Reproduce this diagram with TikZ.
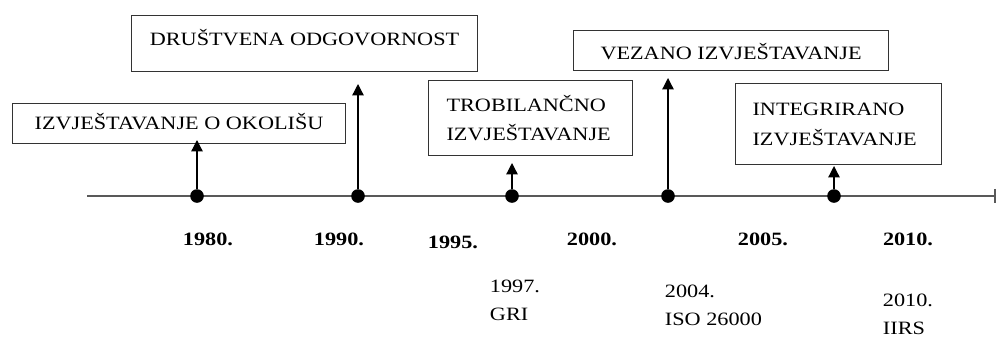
\documentclass[tikz,border=0pt]{standalone}
\usepackage{fontspec}
\setmainfont[FakeStretch=1.18]{Liberation Serif}
\usetikzlibrary{arrows.meta}

\begin{document}
\begin{tikzpicture}[x=0.025cm, y=-0.025cm,
    box/.style={draw=black!80, line width=0.8pt, inner sep=0pt, anchor=north west, font=\fontsize{13.4}{21.3}\selectfont},
    dot/.style={circle, fill=black, inner sep=0pt, minimum size=0.34cm},
    arr/.style={line width=0.9pt, -{Triangle[length=8pt,width=8pt]}},
    year/.style={anchor=base, font=\fontsize{13.4}{16}\selectfont\bfseries},
    std/.style={anchor=base west, align=left, font=\fontsize{13.4}{19.5}\selectfont}]
        \def\px{0.025cm}
        \useasboundingbox (0,0) rectangle (997,336);

        % Timeline
        \coordinate (start) at (87,196);
        \coordinate (end) at (996,196);
        \draw[black!65, line width=1.3pt, -{Bar[width=10pt]}] (start) -- (end);

        % Boxes
        \node[box, minimum width=333*\px, minimum height=40*\px, text height=9pt, text depth=0pt] (okolis) at (12,103) {IZVJEŠTAVANJE O OKOLIŠU};
        \node[box, minimum width=346*\px, minimum height=56*\px, text height=9pt, text depth=6.4pt] (drustvena) at (131,15) {DRUŠTVENA ODGOVORNOST};
        \node[box, minimum height=75*\px, text width=168*\px, inner xsep=18*\px, align=left] (trobilancno) at (428,80) {TROBILANČNO\\IZVJEŠTAVANJE};
        \node[box, minimum width=315*\px, minimum height=40*\px, text height=13.3pt, text depth=0pt] (vezano) at (573,30) {VEZANO IZVJEŠTAVANJE};
        \node[box, minimum height=81*\px, text width=172*\px, inner xsep=17*\px, align=left] (integrirano) at (735,83) {INTEGRIRANO\\IZVJEŠTAVANJE};

        % Dots on the timeline
        \node[dot] (d1980) at (197,196) {};
        \node[dot] (d1990) at (358,196) {};
        \node[dot] (d1997) at (512,196) {};
        \node[dot] (d2004) at (668,196) {};
        \node[dot] (d2010) at (834,196) {};

        % Arrow tips
        \coordinate (t1980) at (197,140);
        \coordinate (t1990) at (358,84);
        \coordinate (t1997) at (512,163);
        \coordinate (t2004) at (668,78);
        \coordinate (t2010) at (834,166);

        \draw[arr] (d1980) -- (t1980);
        \draw[arr] (d1990) -- (t1990);
        \draw[arr] (d1997) -- (t1997);
        \draw[arr] (d2004) -- (t2004);
        \draw[arr] (d2010) -- (t2010);

        % Years
        \node[year] (y1980) at (208,245) {1980.};
        \node[year] (y1990) at (339,245) {1990.};
        \node[year] (y1995) at (453,248) {1995.};
        \node[year] (y2000) at (592,245) {2000.};
        \node[year] (y2005) at (763,245) {2005.};
        \node[year] (y2010) at (908,245) {2010.};

        % Standards (base = last line)
        \node[std] (gri) at (485,320) {1997.\\GRI};
        \node[std] (iso) at (660,325) {2004.\\ISO 26000};
        \node[std] (iirs) at (878,334) {2010.\\IIRS};
\end{tikzpicture}
\end{document}
